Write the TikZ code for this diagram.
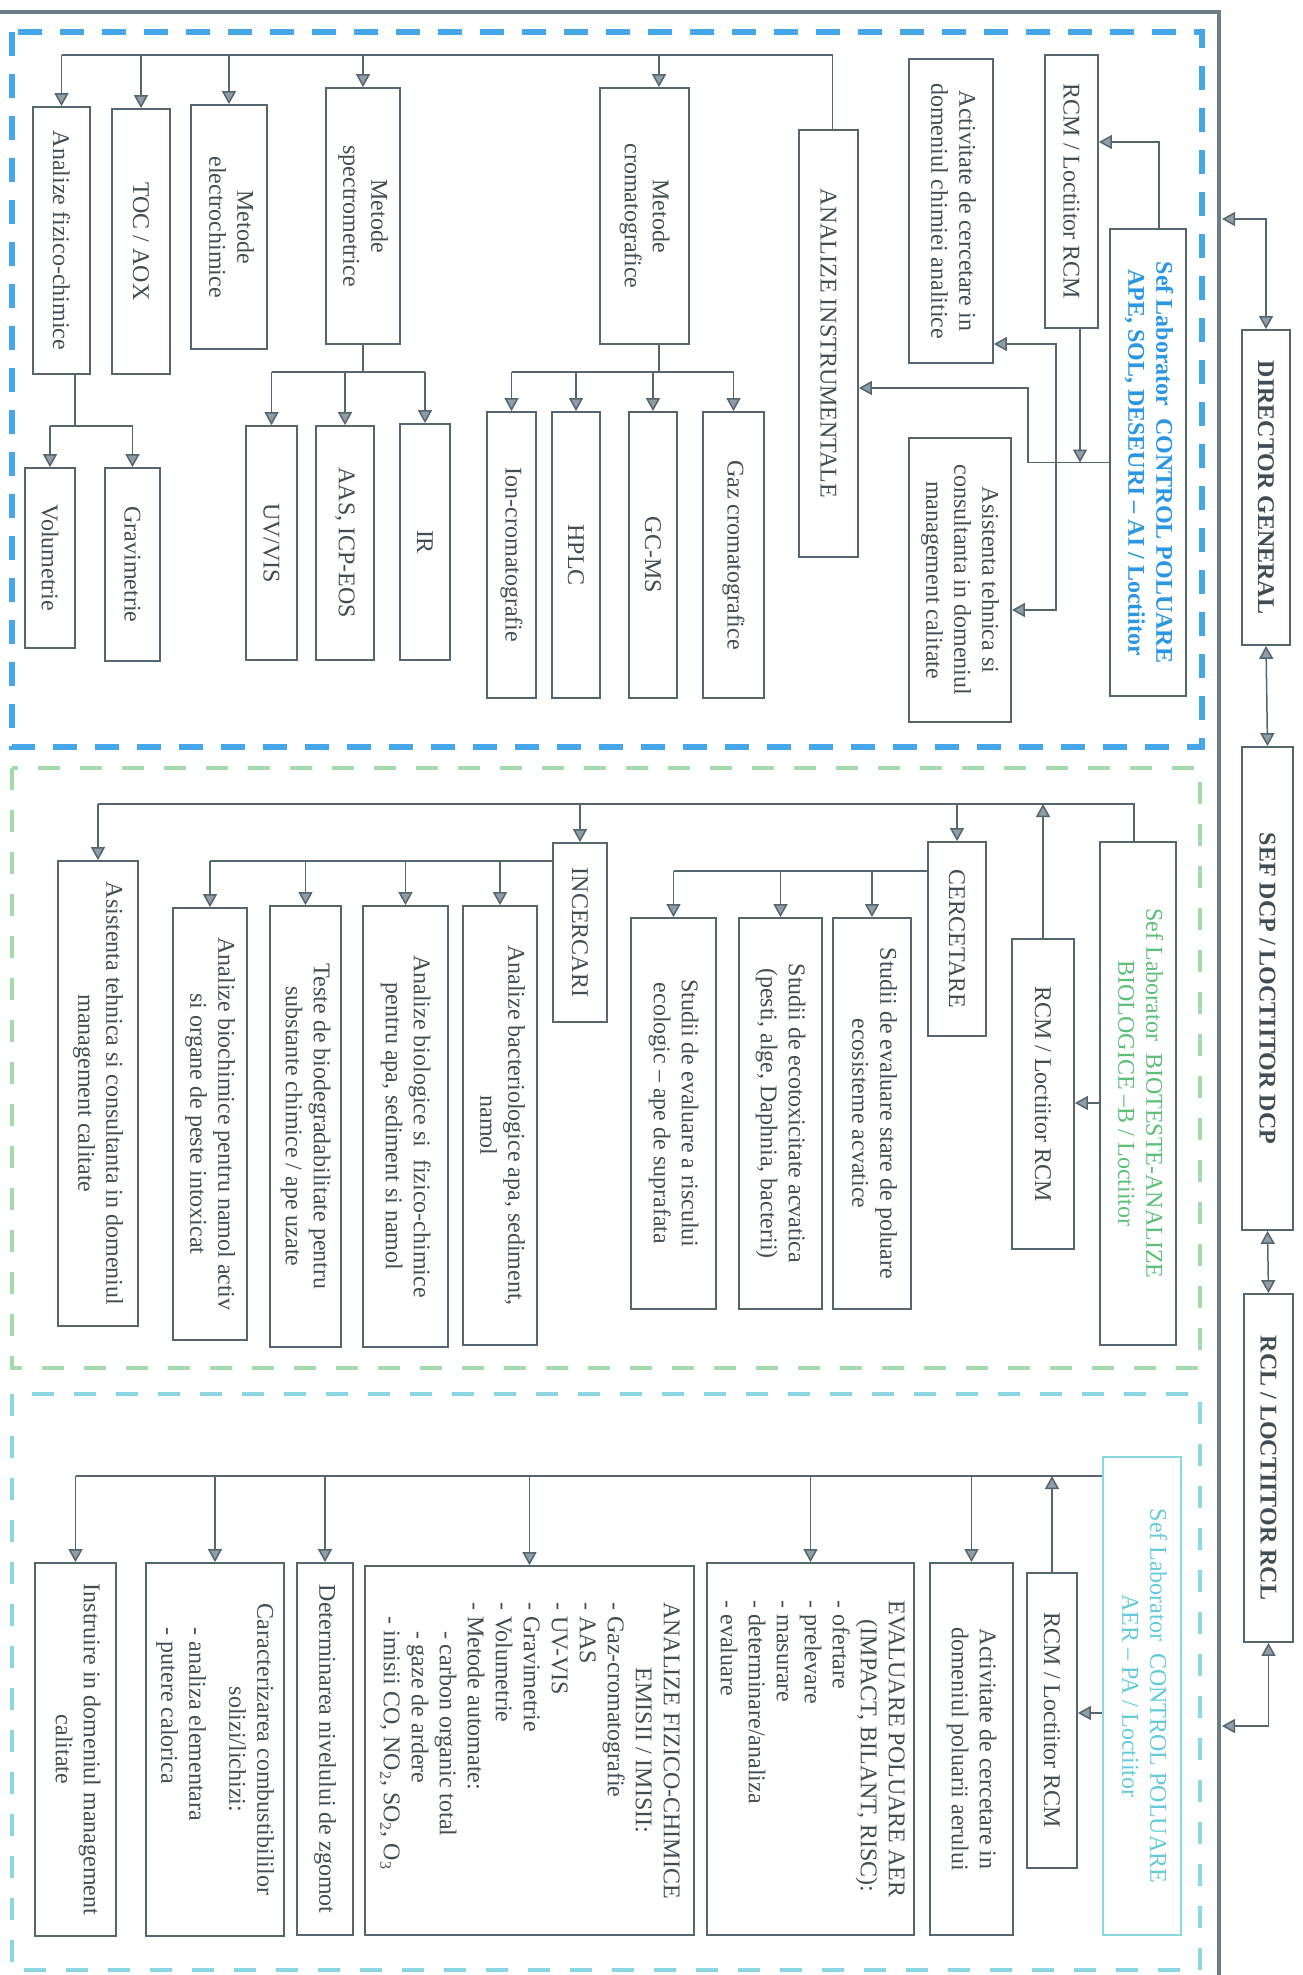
\documentclass[tikz,border=0pt]{standalone}
\usepackage{fontspec}
\setmainfont{Liberation Serif}
\usepackage{graphicx}
\usetikzlibrary{arrows.meta}
\definecolor{ln}{HTML}{56656E}
\definecolor{af}{HTML}{8E9DA6}
\definecolor{tx}{HTML}{434C52}
\definecolor{bl}{HTML}{2B97E3}
\definecolor{bld}{HTML}{45A6EA}
\definecolor{grt}{HTML}{5DBE78}
\definecolor{grd}{HTML}{A5D8AC}
\definecolor{cyt}{HTML}{62CAD8}
\definecolor{cyd}{HTML}{8AD6E2}
\definecolor{frc}{HTML}{6D7D87}
\newcommand{\bx}[7][]{\node[box,minimum width={(#5-#3)*0.5pt},minimum height={(#6-#4)*0.5pt},#1] (#2) at ({(#3+#5)/2},{(#4+#6)/2}) {\rotatebox{-90}{#7}};}
\newcommand{\ctab}[1]{\begin{tabular}{@{}c@{}}#1\end{tabular}}
\tikzset{
  box/.style={draw=ln, line width=0.9pt, inner sep=0pt, text=tx},
  tb/.style={font=\fontsize{12}{14}\selectfont\bfseries},
  arr/.style={draw=ln, line width=0.75pt, -{Triangle[length=6.5pt,width=7pt,fill=af]}},
  darr/.style={draw=ln, line width=0.75pt, {Triangle[length=6.5pt,width=7pt,fill=af]}-{Triangle[length=6.5pt,width=7pt,fill=af]}},
  lnk/.style={draw=ln, line width=0.75pt},
  dashblue/.style={draw=bld, line width=2.6pt, dash pattern=on 12pt off 9pt},
  dashgreen/.style={draw=grd, line width=1.8pt, dash pattern=on 11pt off 10pt},
  dashcyan/.style={draw=cyd, line width=1.8pt, dash pattern=on 11pt off 10pt},
  framel/.style={draw=frc, line width=1.6pt}
}
\begin{document}
\begin{tikzpicture}[x=0.5pt,y=-0.5pt,font=\fontsize{12}{14}\selectfont]
\useasboundingbox (0,0) rectangle (1302,1975);
% frame
\draw[framel] (0,12) -- (1219,12) -- (1219,1975);
% dashed areas
\draw[dashblue] (12,32) rectangle (1202,747);
\draw[dashgreen] (12,768) rectangle (1200,1368);
\draw[dashcyan] (12,1394) rectangle (1200,1970);

% top level
\bx[tb]{dg}{1242}{330}{1290}{645}{DIRECTOR GENERAL}
\bx[tb]{dcp}{1242}{747}{1293}{1230}{SEF DCP / LOCTIITOR DCP}
\bx[tb]{rcl}{1244}{1294}{1293}{1642}{RCL / LOCTIITOR RCL}
\coordinate (f1) at (1222,219);
\coordinate (f2) at (1222,1726);
\draw[darr] (f1) -| (dg.north);
\draw[darr] (dg.south) -- (dcp.north);
\draw[darr] (dcp.south) -- (rcl.north);
\draw[darr] (f2) -| (rcl.south);

% ---------- section 1 ----------
\bx[tb,text=bl]{h1}{1110}{229}{1186}{696}{\ctab{Sef Laborator\ \ CONTROL POLUARE\\APE, SOL, DESEURI – AI / Loctiitor}}
\bx{rcm1}{1045}{55}{1098}{328}{RCM / Loctiitor RCM}
\bx{act1}{909}{59}{993}{363}{\ctab{Activitate de cercetare in\\domeniul chimiei analitice}}
\bx{asi1}{909}{438}{1011}{722}{\ctab{Asistenta tehnica si\\consultanta in domeniul\\management calitate}}
\bx{ai}{799}{130}{858}{557}{ANALIZE INSTRUMENTALE}
\bx{afc}{33}{107}{90}{374}{Analize fizico-chimice}
\bx{toc}{112}{109}{170}{374}{TOC / AOX}
\bx{ele}{191}{105}{267}{349}{\ctab{Metode\\electrochimice}}
\bx{spe}{326}{88}{400}{344}{\ctab{Metode\\spectrometrice}}
\bx{cro}{600}{88}{689}{344}{\ctab{Metode\\cromatografice}}
\bx{vol}{25}{468}{75}{648}{Volumetrie}
\bx{grav}{105}{468}{160}{661}{Gravimetrie}
\bx{uv}{246}{426}{297}{660}{UV/VIS}
\bx{aas}{316}{426}{374}{660}{AAS, ICP-EOS}
\bx{ir}{400}{424}{450}{660}{IR}
\bx{ion}{487}{412}{536}{698}{Ion-cromatografie}
\bx{hplc}{552}{412}{600}{698}{HPLC}
\bx{gcms}{629}{412}{677}{698}{GC-MS}
\bx{gaz}{703}{412}{764}{698}{Gaz cromatografice}

\coordinate (h1t) at ([xshift=5.5pt]h1.north);
\coordinate (r1e) at ([yshift=24.75pt]rcm1.east);
\draw[arr] (h1t) |- (r1e);
\coordinate (r1b) at ([xshift=4.25pt]rcm1.south);
\draw[arr] (r1b) -- (r1b |- h1.west);
\coordinate (j1) at (1028,388);
\coordinate (aie) at ([yshift=-22.25pt]ai.east);
\draw[arr] (h1.west) -| (j1) -- (aie);
\coordinate (j3) at (1056,462.5);
\coordinate (a1e) at ([yshift=-66.5pt]act1.east);
\coordinate (s1e) at ([yshift=-15pt]asi1.east);
\draw[arr] (j3) |- (a1e);
\draw[arr] (j3) |- (s1e);

\coordinate (bus1) at (0,55);
\coordinate (crotop) at ([xshift=7.25pt]cro.north);
\draw[lnk] ([xshift=2pt]ai.north) |- (afc.north |- bus1);
\foreach \n in {afc,toc,ele,spe} \draw[arr] (\n.north |- bus1) -- (\n.north);
\draw[arr] (crotop |- bus1) -- (crotop);

\coordinate (sb) at (0,372);
\draw[lnk] (spe.south) -- (spe.south |- sb);
\draw[lnk] (uv.north |- sb) -- (ir.north |- sb);
\foreach \n in {uv,aas,ir} \draw[arr] (\n.north |- sb) -- (\n.north);
\coordinate (crob) at ([xshift=7.25pt]cro.south);
\draw[lnk] (crob) -- (crob |- sb);
\draw[lnk] (ion.north |- sb) -- (gaz.north |- sb);
\foreach \n in {ion,hplc,gcms,gaz} \draw[arr] (\n.north |- sb) -- (\n.north);
\coordinate (fb) at (0,426);
\coordinate (afcb) at ([xshift=6.75pt]afc.south);
\draw[lnk] (afcb) -- (afcb |- fb);
\draw[lnk] (vol.north |- fb) -- (grav.north |- fb);
\foreach \n in {vol,grav} \draw[arr] (\n.north |- fb) -- (\n.north);

% ---------- section 2 ----------
\bx[text=grt]{h2}{1100}{842}{1176}{1345}{\ctab{Sef Laborator\ \ BIOTESTE-ANALIZE\\BIOLOGICE –B / Loctiitor}}
\bx{rcm2}{1012}{939}{1074}{1249}{RCM / Loctiitor RCM}
\bx{cer}{928}{842}{986}{1036}{CERCETARE}
\bx{st1}{833}{918}{911}{1309}{\ctab{Studii de evaluare stare de poluare\\ecosisteme acvatice}}
\bx{st2}{739}{918}{822}{1309}{\ctab{Studii de ecotoxicitate acvatica\\(pesti, alge, Daphnia, bacterii)}}
\bx{st3}{631}{918}{716}{1309}{\ctab{Studii de evaluare a riscului\\ecologic – ape de suprafata}}
\bx{inc}{553}{843}{607}{1022}{INCERCARI}
\bx{t1}{463}{906}{537}{1345}{\ctab{Analize bacteriologice apa, sediment,\\namol}}
\bx{t2}{363}{906}{448}{1347}{\ctab{Analize biologice si\ \ fizico-chimice\\pentru apa, sediment si namol}}
\bx{t3}{270}{906}{341}{1347}{\ctab{Teste de biodegradabilitate pentru\\substante chimice / ape uzate}}
\bx{t4}{173}{908}{247}{1340}{\ctab{Analize biochimice pentru namol activ\\si organe de peste intoxicat}}
\bx{asi2}{58}{861}{138}{1326}{\ctab{Asistenta tehnica si consultanta in domeniul\\management calitate}}

\coordinate (bus2) at (0,804);
\draw[lnk] ([xshift=-2pt]h2.north) |- (asi2.north |- bus2);
\foreach \n in {asi2,inc,cer} \draw[arr] (\n.north |- bus2) -- (\n.north);
\draw[arr] (rcm2.north) -- (rcm2.north |- bus2);
\coordinate (h2w) at ([yshift=-4.75pt]h2.west);
\draw[arr] (h2w) -- (h2w -| rcm2.east);
\coordinate (cb) at (0,871);
\draw[lnk] (cer.west |- cb) -- (st3.north |- cb);
\foreach \n in {st1,st2,st3} \draw[arr] (\n.north |- cb) -- (\n.north);
\coordinate (ib) at (0,861);
\draw[lnk] (inc.west |- ib) -- (t4.north |- ib);
\foreach \n in {t1,t2,t3,t4} \draw[arr] (\n.north |- ib) -- (\n.north);

% ---------- section 3 ----------
\bx[draw=cyd,text=cyt]{h3}{1103}{1457}{1181}{1935}{\ctab{Sef Laborator\ \ CONTROL POLUARE\\AER – PA / Loctiitor}}
\bx{rcm3}{1027}{1573}{1077}{1868}{RCM / Loctiitor RCM}
\bx{act3}{930}{1563}{1013}{1935}{\ctab{Activitate de cercetare in\\domeniul poluarii aerului}}
\bx{eva}{707}{1563}{914}{1935}{\begin{tabular}{@{}l@{}}EVALUARE POLUARE AER\\\hspace*{0.8em}(IMPACT, BILANT, RISC):\\- ofertare\\- prelevare\\- masurare\\- determinare/analiza\\- evaluare\end{tabular}}
\bx{afz}{365}{1566}{694}{1935}{\begin{tabular}{@{}l@{}}\multicolumn{1}{@{}c@{}}{ANALIZE FIZICO-CHIMICE}\\\multicolumn{1}{@{}c@{}}{EMISII / IMISII:}\\- Gaz-cromatografie\\- AAS\\- UV-VIS\\- Gravimetrie\\- Volumetrie\\- Metode automate:\\\hspace*{1.2em}- carbon organic total\\\hspace*{1.2em}- gaze de ardere\\\hspace*{0.6em}- imisii CO, NO\textsubscript{2}, SO\textsubscript{2}, O\textsubscript{3}\end{tabular}}
\bx{zg}{297}{1563}{353}{1935}{Determinarea nivelului de zgomot}
\bx{car}{146}{1563}{284}{1936}{\begin{tabular}{@{}l@{}}\multicolumn{1}{@{}c@{}}{Caracterizarea combustibililor}\\\multicolumn{1}{@{}c@{}}{solizi/lichizi:}\\[6pt]\hspace*{1em}- analiza elementara\\\hspace*{1em}- putere calorica\end{tabular}}
\bx{ins}{35}{1563}{116}{1936}{\ctab{Instruire in domeniul management\\calitate}}

\coordinate (cb3) at (0,1476);
\draw[lnk] (h3.west |- cb3) -- (ins.north |- cb3);
\foreach \n in {act3,eva,afz,zg,car,ins} \draw[arr] (\n.north |- cb3) -- (\n.north);
\draw[arr] (rcm3.north) -- (rcm3.north |- cb3);
\coordinate (h3w) at ([yshift=-8.5pt]h3.west);
\draw[arr] (h3w) -- (h3w -| rcm3.east);
\end{tikzpicture}
\end{document}
